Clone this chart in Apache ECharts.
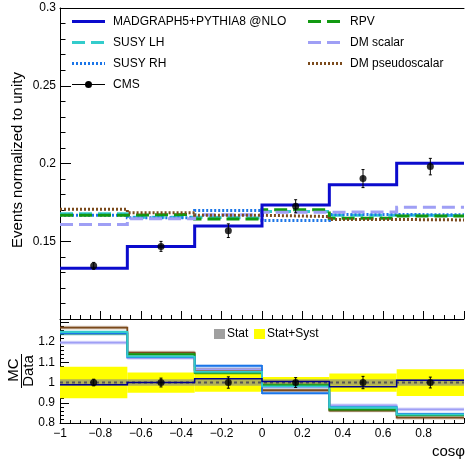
<!DOCTYPE html>
<html>
<head>
<meta charset="utf-8">
<script src="https://cdn.jsdelivr.net/npm/echarts@6/dist/echarts.min.js"></script>
<style>
  html, body { margin: 0; padding: 0; background: #fff; }
  #c { width: 465px; height: 462px; }
</style>
</head>
<body>
<div id="c"></div>
<script>
// Bin edges in cos(phi)
const binEdges = [-1, -2 / 3, -1 / 3, 0, 1 / 3, 2 / 3, 1];

// Normalised distributions
const cmsData   = [0.1342, 0.1467, 0.1568, 0.1725, 0.1903, 0.1980];
const cmsErr    = [0.0022, 0.0032, 0.0044, 0.0042, 0.0058, 0.0053];
const madgraph  = [0.1327, 0.1467, 0.1598, 0.1733, 0.1864, 0.2002];
const susyLH    = [0.1677, 0.1655, 0.1650, 0.1692, 0.1668, 0.1665];
const susyRH    = [0.1668, 0.1651, 0.1697, 0.1634, 0.1672, 0.1670];
const rpv       = [0.1668, 0.1672, 0.1643, 0.1703, 0.1648, 0.1662];
const dmScalar  = [0.1607, 0.1645, 0.1670, 0.1687, 0.1688, 0.1718];
const dmPseudo  = [0.1706, 0.1684, 0.1667, 0.1659, 0.1640, 0.1637];

// Relative uncertainties on the measurement (ratio panel)
const statUnc   = [0.016, 0.016, 0.016, 0.016, 0.016, 0.016];
const totalUnc  = [0.078, 0.050, 0.045, 0.027, 0.045, 0.066];

// Axis tick settings
const yTopTicks = { min: 0.1, max: 0.3, interval: 0.05 };
const yRatioTicks = { min: 0.8, max: 1.314, interval: 0.1 };
const xTicks = { min: -1, max: 1, interval: 0.2 };

const FONT = '"Liberation Sans", Arial, Helvetica, sans-serif';
const nBins = cmsData.length;
const centers = cmsData.map((_, i) => (binEdges[i] + binEdges[i + 1]) / 2);

function stepData(vals) {
  const d = vals.map((v, i) => [binEdges[i], v]);
  d.push([binEdges[nBins], vals[nBins - 1]]);
  return d;
}
function toRatio(vals) { return vals.map((v, i) => v / cmsData[i]); }

const models = [
  { name: 'SUSY LH', vals: susyLH, color: '#33cccc', band: 'rgba(51,204,204,0.35)', dash: [13, 6] },
  { name: 'SUSY RH', vals: susyRH, color: '#1a75e8', band: 'rgba(26,117,232,0.30)', dash: [2, 2] },
  { name: 'RPV', vals: rpv, color: '#119911', band: 'rgba(17,153,17,0.30)', dash: [13, 6] },
  { name: 'DM scalar', vals: dmScalar, color: '#9f9ff5', band: 'rgba(159,159,245,0.40)', dash: [13, 6] },
  { name: 'DM pseudoscalar', vals: dmPseudo, color: '#7b4a1c', band: 'rgba(123,74,28,0.30)', dash: [2, 2] }
];

function rectSeries(xIdx, yIdx, data, fill, z) {
  return {
    type: 'custom', xAxisIndex: xIdx, yAxisIndex: yIdx, z: z, silent: true, clip: true,
    data: data,
    renderItem: (p, api) => {
      const a = api.coord([api.value(0), api.value(3)]);
      const b = api.coord([api.value(1), api.value(2)]);
      return { type: 'rect', shape: { x: a[0], y: a[1], width: b[0] - a[0], height: b[1] - a[1] }, style: { fill: fill } };
    }
  };
}

function errorBars(xIdx, yIdx, vals, errs, z) {
  return {
    type: 'custom', xAxisIndex: xIdx, yAxisIndex: yIdx, z: z, silent: true,
    data: vals.map((v, i) => [centers[i], v - errs[i], v + errs[i]]),
    renderItem: (p, api) => {
      const t = api.coord([api.value(0), api.value(2)]);
      const b = api.coord([api.value(0), api.value(1)]);
      const st = { stroke: '#000', lineWidth: 1 };
      return {
        type: 'group', children: [
          { type: 'line', shape: { x1: t[0], y1: t[1], x2: b[0], y2: b[1] }, style: st },
          { type: 'line', shape: { x1: t[0] - 1.5, y1: t[1], x2: t[0] + 1.5, y2: t[1] }, style: st },
          { type: 'line', shape: { x1: b[0] - 1.5, y1: b[1], x2: b[0] + 1.5, y2: b[1] }, style: st }
        ]
      };
    }
  };
}

function stepLine(xIdx, yIdx, vals, color, width, dash, z) {
  return {
    type: 'line', xAxisIndex: xIdx, yAxisIndex: yIdx, step: 'end', z: z, silent: true,
    symbol: 'none', showSymbol: false, data: stepData(vals),
    lineStyle: { color: color, width: width, type: dash || 'solid', cap: 'butt', join: 'miter' }
  };
}

const series = [];

// Upper panel
models.forEach((m, k) => series.push(stepLine(0, 0, m.vals, m.color, 3, m.dash, 2 + k * 0.01)));
series.push(stepLine(0, 0, madgraph, '#0b0bcd', 3, null, 3));
series.push(errorBars(0, 0, cmsData, cmsErr, 4));
series.push({
  type: 'scatter', xAxisIndex: 0, yAxisIndex: 0, z: 5, silent: true, symbol: 'circle', symbolSize: 7,
  itemStyle: { color: '#000' }, data: cmsData.map((v, i) => [centers[i], v])
});

// Ratio panel: measurement uncertainty bands
series.push(rectSeries(2, 1, totalUnc.map((e, i) => [binEdges[i], binEdges[i + 1], 1 - e, 1 + e]), '#ffff00', 1));
series.push(rectSeries(2, 1, statUnc.map((e, i) => [binEdges[i], binEdges[i + 1], 1 - e, 1 + e]), 'rgba(135,135,135,0.65)', 1.1));

// Ratio panel: models with their bands
models.slice().reverse().forEach((m, k) => {
  const r = toRatio(m.vals);
  series.push(rectSeries(2, 1, r.map((v, i) => [binEdges[i], binEdges[i + 1], v - 0.009, v + 0.009]), m.band, 2 + k * 0.01));
  series.push(stepLine(2, 1, r, m.color, 1.8, null, 2.5 + k * 0.01));
});

// Ratio panel: measurement at unity, MADGRAPH ratio, data points
series.push(stepLine(2, 1, cmsData.map(() => 1), '#555555', 2, [3, 3], 3));
series.push(stepLine(2, 1, toRatio(madgraph), '#00008b', 1.5, null, 3.2));
series.push(errorBars(2, 1, cmsData.map(() => 1), cmsErr.map((e, i) => e / cmsData[i]), 4));
series.push({
  type: 'scatter', xAxisIndex: 2, yAxisIndex: 1, z: 5, silent: true, symbol: 'circle', symbolSize: 7,
  itemStyle: { color: '#000' }, data: centers.map(c => [c, 1])
});

const axisLine = { show: true, onZero: false, lineStyle: { color: '#000', width: 1 } };
const noSplit = { show: false };

function fmtX(v) {
  const r = Math.round(v * 10) / 10;
  if (r >= 1) return '';
  return String(r).replace('-', '\u2212');
}

const option = {
  animation: false,
  backgroundColor: '#fff',
  textStyle: { fontFamily: FONT },
  grid: [
    { left: 60, top: 8, width: 404, height: 311, outerBoundsMode: 'none', containLabel: false },
    { left: 60, top: 319, width: 404, height: 104, outerBoundsMode: 'none', containLabel: false }
  ],
  xAxis: [
    { gridIndex: 0, type: 'value', position: 'bottom', ...xTicks, axisLine: axisLine,
      axisTick: { show: true, inside: true, length: 8, lineStyle: { color: '#000' } },
      minorTick: { show: true, splitNumber: 4, length: 4, lineStyle: { color: '#000' } },
      axisLabel: { show: false }, splitLine: noSplit, minorSplitLine: noSplit },
    { gridIndex: 0, type: 'value', position: 'top', ...xTicks, axisLine: axisLine,
      axisTick: { show: false }, axisLabel: { show: false }, splitLine: noSplit },
    { gridIndex: 1, type: 'value', position: 'bottom', ...xTicks, axisLine: axisLine,
      axisTick: { show: true, inside: true, length: 5, lineStyle: { color: '#000' } },
      minorTick: { show: true, splitNumber: 4, length: 3, lineStyle: { color: '#000' } },
      axisLabel: { show: true, margin: 5, color: '#000', fontSize: 12, fontFamily: FONT, formatter: fmtX },
      splitLine: noSplit, minorSplitLine: noSplit }
  ],
  yAxis: [
    { gridIndex: 0, type: 'value', position: 'left', ...yTopTicks, axisLine: axisLine,
      axisTick: { show: true, inside: true, length: 11, lineStyle: { color: '#000' } },
      minorTick: { show: true, splitNumber: 5, length: 5.5, lineStyle: { color: '#000' } },
      axisLabel: { show: true, margin: 4, color: '#000', fontSize: 12, fontFamily: FONT,
        formatter: v => (v < 0.125 ? '' : String(parseFloat(v.toFixed(3)))) },
      splitLine: noSplit, minorSplitLine: noSplit },
    { gridIndex: 1, type: 'value', position: 'left', ...yRatioTicks, axisLine: axisLine,
      axisTick: { show: true, inside: true, length: 9, lineStyle: { color: '#000' } },
      minorTick: { show: true, splitNumber: 5, length: 4, lineStyle: { color: '#000' } },
      axisLabel: { show: true, margin: 5, color: '#000', fontSize: 12, fontFamily: FONT, showMaxLabel: false,
        formatter: v => (v > 1.25 ? '' : String(Math.round(v * 10) / 10)) },
      splitLine: noSplit, minorSplitLine: noSplit }
  ],
  series: series,
  graphic: buildGraphics()
};

function legendLine(x1, x2, y, color, dash, width) {
  return { type: 'line', silent: true, z: 100, shape: { x1: x1, y1: y, x2: x2, y2: y },
    style: { stroke: color, lineWidth: width, lineDash: dash || null, lineCap: 'butt' } };
}
function legendText(x, y, str, size) {
  return { type: 'text', silent: true, z: 100, x: x, y: y,
    style: { text: str, fill: '#000', font: (size || 12) + 'px ' + FONT, verticalAlign: 'middle' } };
}

function buildGraphics() {
  const g = [];
  const rows = [21.5, 42.5, 63.5, 84.5];
  // Left legend column
  g.push(legendLine(72, 105, rows[0], '#0b0bcd', null, 3));
  g.push(legendText(113, rows[0], 'MADGRAPH5+PYTHIA8 @NLO'));
  g.push(legendLine(72, 105, rows[1], models[0].color, models[0].dash, 3));
  g.push(legendText(113, rows[1], 'SUSY LH'));
  g.push(legendLine(72, 105, rows[2], models[1].color, models[1].dash, 3));
  g.push(legendText(113, rows[2], 'SUSY RH'));
  g.push(legendLine(72, 105, rows[3], '#000', null, 1));
  g.push({ type: 'circle', silent: true, z: 100, shape: { cx: 88.5, cy: rows[3], r: 3.5 }, style: { fill: '#000' } });
  g.push(legendText(113, rows[3], 'CMS'));
  // Right legend column
  g.push(legendLine(308, 342, rows[0], models[2].color, models[2].dash, 3));
  g.push(legendText(350, rows[0], 'RPV'));
  g.push(legendLine(308, 342, rows[1], models[3].color, models[3].dash, 3));
  g.push(legendText(350, rows[1], 'DM scalar'));
  g.push(legendLine(308, 342, rows[2], models[4].color, models[4].dash, 3));
  g.push(legendText(350, rows[2], 'DM pseudoscalar'));
  // Ratio legend
  g.push({ type: 'rect', silent: true, z: 100, shape: { x: 214, y: 329, width: 11, height: 10 }, style: { fill: '#a0a0a0' } });
  g.push(legendText(227, 334, 'Stat'));
  g.push({ type: 'rect', silent: true, z: 100, shape: { x: 254, y: 329, width: 11, height: 10 }, style: { fill: '#ffff00' } });
  g.push(legendText(267, 334, 'Stat+Syst'));
  // Axis titles
  g.push({ type: 'text', silent: true, z: 100, x: 18, y: 160, rotation: Math.PI / 2,
    style: { text: 'Events normalized to unity', fill: '#000', font: '15px ' + FONT, align: 'center', verticalAlign: 'middle' } });
  g.push({ type: 'text', silent: true, z: 100, x: 14, y: 370, rotation: Math.PI / 2,
    style: { text: 'MC', fill: '#000', font: '15px ' + FONT, align: 'center', verticalAlign: 'middle' } });
  g.push({ type: 'line', silent: true, z: 100, shape: { x1: 21.5, y1: 354, x2: 21.5, y2: 388 }, style: { stroke: '#000', lineWidth: 1 } });
  g.push({ type: 'text', silent: true, z: 100, x: 29, y: 371, rotation: Math.PI / 2,
    style: { text: 'Data', fill: '#000', font: '15px ' + FONT, align: 'center', verticalAlign: 'middle' } });
  g.push({ type: 'text', silent: true, z: 100, x: 465, y: 452,
    style: { text: 'cos\u03c6', fill: '#000', font: '15px ' + FONT, align: 'right', verticalAlign: 'middle' } });
  return g;
}

const chart = echarts.init(document.getElementById('c'), null, { renderer: 'canvas' });
chart.setOption(option);
</script>
</body>
</html>
